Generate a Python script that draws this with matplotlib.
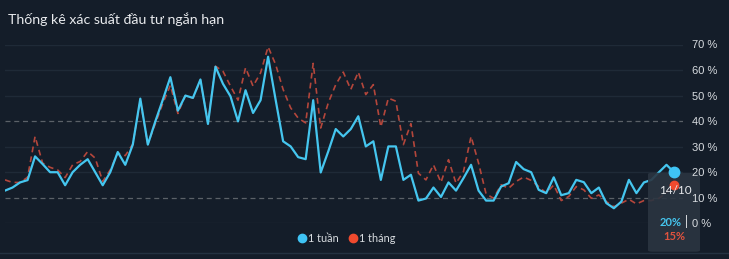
import matplotlib
matplotlib.use("Agg")
import matplotlib.pyplot as plt
from matplotlib.patches import FancyBboxPatch
from matplotlib.lines import Line2D
import numpy as np

title = "Thống kê xác suất đầu tư ngắn hạn"
series_names = ["1 tuần", "1 tháng"]
y_ticks = [0, 10, 20, 30, 40, 50, 60, 70]
tip_date = "14/10"

# xác suất (%) theo ngày
week = [12.8, 14.0, 16.0, 16.9, 26.2, 23.2, 20.0, 20.0, 14.9, 20.0,
        22.9, 25.1, 20.0, 14.9, 20.0, 27.9, 22.9, 30.8, 48.8, 30.8,
        39.9, 48.4, 57.2, 44.1, 50.0, 49.1, 56.3, 38.9, 61.3, 54.6,
        49.7, 39.9, 52.1, 43.2, 48.2, 65.2, 48.4, 32.1, 30.1, 25.9,
        25.1, 48.2, 19.9, 28.1, 36.9, 34.0, 36.9, 41.9, 30.1, 32.1,
        17.0, 30.1, 30.1, 17.0, 19.0, 8.9, 9.7, 14.0, 10.3, 16.0,
        12.8, 17.7, 22.9, 12.8, 8.9, 8.9, 14.4, 15.7, 24.0, 21.2,
        20.0, 13.1, 11.8, 18.0, 11.0, 11.8, 17.0, 16.1, 11.8, 14.0,
        7.9, 5.9, 8.5, 17.0, 11.8, 16.0, 17.0, 20.0, 22.9, 20.0]
month = [17.0, 16.0, 16.0, 18.0, 34.0, 23.6, 21.9, 20.9, 17.9, 22.9,
         24.2, 28.1, 25.5, 16.4, 20.9, 27.5, 26.5, 31.0, 48.0, 31.0,
         39.0, 47.0, 54.0, 43.0, 50.0, 49.0, 56.0, 39.5, 61.5, 59.5,
         53.7, 48.2, 60.9, 53.7, 58.9, 69.1, 62.2, 52.4, 45.2, 41.2,
         39.3, 62.6, 37.3, 47.1, 54.3, 59.2, 52.4, 59.2, 50.4, 54.3,
         37.7, 49.0, 47.8, 30.8, 39.0, 19.6, 17.0, 22.9, 16.0, 24.9,
         15.7, 20.3, 34.0, 23.6, 11.5, 9.8, 15.1, 13.7, 16.4, 18.1,
         16.8, 14.4, 11.8, 15.0, 8.9, 10.5, 14.4, 13.1, 9.8, 11.1,
         8.5, 6.5, 7.9, 9.4, 7.6, 8.9, 8.9, 9.8, 12.0, 15.0]

BG = '#141d29'
BLUE = '#45c6ef'
RED_LINE = '#b4463b'
RED_DOT = '#f04a2e'
TXT = '#d8dce0'

plt.rcParams.update({
    'font.family': ['Lato', 'DejaVu Sans'],
    'font.size': 8,
})

W, H = 729, 259
fig = plt.figure(figsize=(W / 100, H / 100), dpi=100, facecolor=BG)
ax = fig.add_axes([5 / W, 1 - 223.3 / H, (683 - 5) / W, (223.3 - 44.5) / H])
ax.set_facecolor(BG)

x = np.arange(len(week))
n = len(week)
ax.set_xlim(0, (683 - 5) / ((674 - 5) / (n - 1)))
ax.set_ylim(0, 70)

# lưới
for v in y_ticks:
    if v in (10, 40):
        ax.axhline(v, color='#5b6168', lw=0.9, ls=(0, (4, 3)), zorder=1)
    else:
        ax.axhline(v, color='#1f2a37', lw=1.0, zorder=1)

ax.plot(x, month, color=RED_LINE, lw=1.2, ls=(0, (3.5, 2.5)), zorder=2)
ax.plot(x, week, color=BLUE, lw=1.6, zorder=2.2)

ax.yaxis.tick_right()
ax.set_yticks(y_ticks)
ax.set_yticklabels([f"{v} %" for v in y_ticks], color=TXT, fontsize=8,
                   family=['Liberation Sans', 'DejaVu Sans'])
ax.tick_params(axis='y', length=0, pad=6.5)
ax.yaxis.set_zorder(5)
ax.set_xticks([])
for s in ax.spines.values():
    s.set_visible(False)

# tooltip
box = FancyBboxPatch((648 / W, 1 - 251.7 / H), 52 / W, 79 / H,
                     boxstyle='round,pad=0,rounding_size=0.006',
                     transform=fig.transFigure, facecolor='#2b3541',
                     edgecolor='none', alpha=0.9, clip_on=False, zorder=2.4)
ax.add_patch(box)
ax.plot(x[-1], week[-1], 'o', ms=7.5, color='#3fc4f5', clip_on=False,
        zorder=4)
ax.plot(x[-1], month[-1], 'o', ms=6, color=RED_DOT, clip_on=False, zorder=4)
fig.text(675 / W, 1 - 190 / H, tip_date, color='#e8eaed', fontsize=8.5,
         ha='center', va='center', zorder=5)
fig.text(682 / W, 1 - 222 / H, f"{week[-1]:.0f}%", color=BLUE,
         fontsize=8, fontweight='bold', ha='right', va='center', zorder=5)
fig.text(686 / W, 1 - 222 / H, "|", color='#e8eaed', fontsize=9,
         ha='center', va='center', zorder=5)
fig.text(674 / W, 1 - 237 / H, f"{month[-1]:.0f}%", color='#e0533e',
         fontsize=8, fontweight='bold', ha='center', va='center', zorder=5)

fig.text(8 / W, 1 - 19 / H, title, color='#e8eaed', fontsize=10.2,
         ha='left', va='center')

handles = [Line2D([], [], ls='none', marker='o', ms=6, color='#3fc4f5'),
           Line2D([], [], ls='none', marker='o', ms=6, color=RED_DOT)]
fig.legend(handles, series_names, loc='center',
           bbox_to_anchor=(346 / W, 1 - 238 / H), ncol=2, frameon=False,
           handletextpad=0.1, columnspacing=0.8, handlelength=1.0,
           labelcolor=TXT, fontsize=7.8)

fig.add_artist(Line2D([0, 1], [1 - 253 / H, 1 - 253 / H],
                      transform=fig.transFigure, color='#243241', lw=1))

fig.savefig('out.png', dpi=100, facecolor=BG)
